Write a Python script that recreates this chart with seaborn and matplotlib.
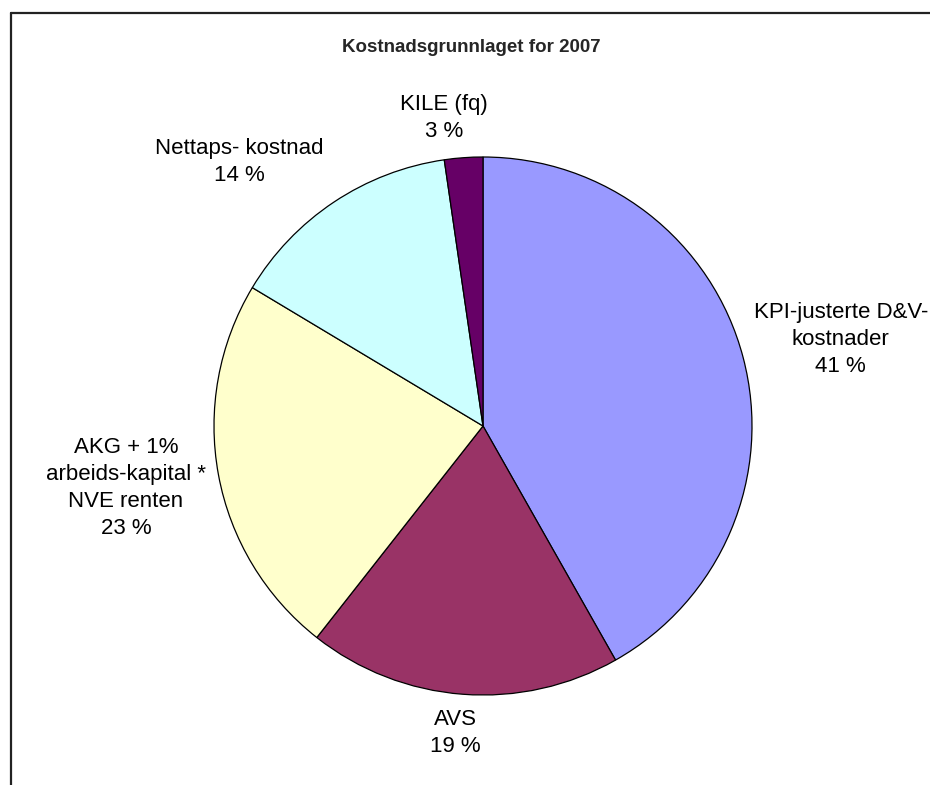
import matplotlib
matplotlib.use("Agg")
import matplotlib.pyplot as plt
from matplotlib.lines import Line2D
import seaborn as sns

# Data
categories = [
    "KPI-justerte D&V-\nkostnader",
    "AVS",
    "AKG + 1%\narbeids-kapital *\nNVE renten",
    "Nettaps- kostnad",
    "KILE (fq)",
]
shares = [41.8, 18.8, 23.0, 14.1, 2.3]
pct_labels = ["41 %", "19 %", "23 %", "14 %", "3 %"]
colors = ["#9999FF", "#993366", "#FFFFCC", "#CCFFFF", "#660066"]

# Label centres in pie units (radius = 1)
label_pos = [(1.330, 0.320), (-0.104, -1.141), (-1.327, -0.230),
             (-0.907, 0.981), (-0.145, 1.145)]

sns.set_theme(style="white")
plt.rcParams["font.family"] = ["Liberation Sans", "DejaVu Sans"]

W, H = 930, 785
fig = plt.figure(figsize=(W / 100, H / 100), dpi=100)
fig.patch.set_facecolor("white")

# Pie centre (483, 426) px, radius 269 px
cx, cy, r = 483, 426, 269
ax = fig.add_axes([(cx - r) / W, (H - cy - r) / H, 2 * r / W, 2 * r / H])
ax.pie(
    shares,
    colors=colors,
    startangle=90,
    counterclock=False,
    radius=1,
    wedgeprops={"edgecolor": "black", "linewidth": 0.9},
)
ax.set_xlim(-1, 1)
ax.set_ylim(-1, 1)
ax.set_aspect("equal")
ax.axis("off")

for name, pct, (x, y) in zip(categories, pct_labels, label_pos):
    ax.text(x, y, f"{name}\n{pct}", ha="center", va="center",
            fontsize=16, color="black", linespacing=1.38, clip_on=False)

fig.text(471 / W, 1 - 47 / H, "Kostnadsgrunnlaget for 2007",
         ha="center", va="center", fontsize=13.5, fontweight="bold")

# Chart border (cropped at the right and bottom in the reference)
fig.add_artist(Line2D([10.5 / W, 10.5 / W], [0, 1 - 13 / H],
                      transform=fig.transFigure, color="#222222", lw=1.6))
fig.add_artist(Line2D([10.5 / W, 1], [1 - 13 / H, 1 - 13 / H],
                      transform=fig.transFigure, color="#222222", lw=1.6))

fig.savefig("out.png", dpi=100)
